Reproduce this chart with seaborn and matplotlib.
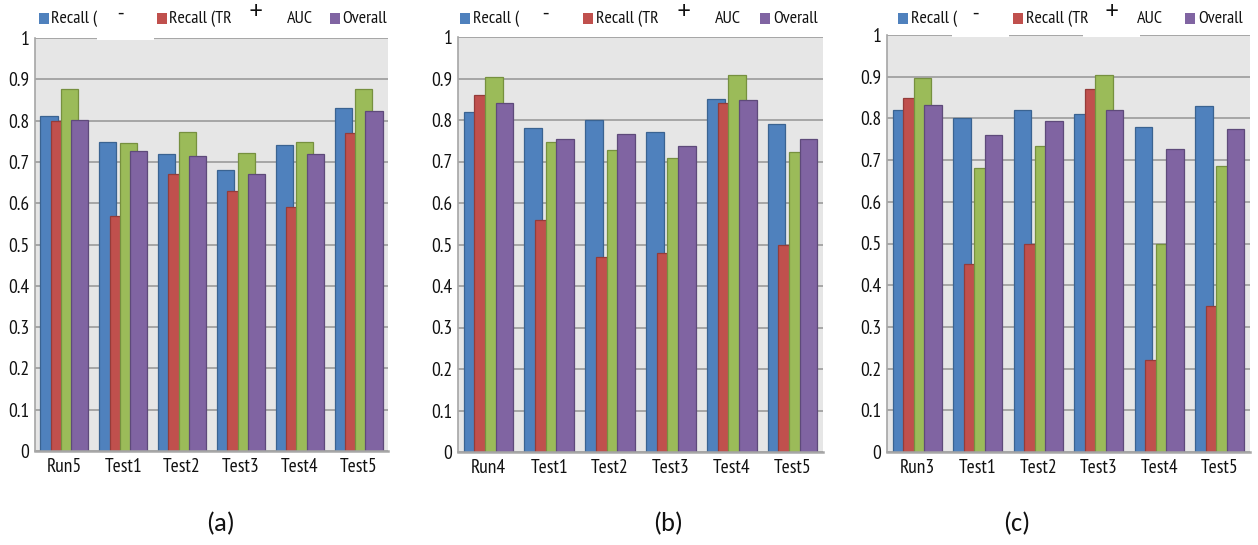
import numpy as np
import pandas as pd
import matplotlib
matplotlib.use("Agg")
import matplotlib.pyplot as plt
import seaborn as sns
from matplotlib.patches import Rectangle

# ---------------- data ----------------
series = ["Recall (-)", "Recall (TR+)", "AUC", "Overall"]

cats_a = ["Run5", "Test1", "Test2", "Test3", "Test4", "Test5"]
recall_neg_a = [0.81, 0.748, 0.72, 0.68, 0.74, 0.83]
recall_pos_a = [0.80, 0.57, 0.67, 0.63, 0.59, 0.77]
auc_a = [0.877, 0.745, 0.773, 0.722, 0.748, 0.877]
overall_a = [0.802, 0.727, 0.715, 0.67, 0.72, 0.823]

cats_b = ["Run4", "Test1", "Test2", "Test3", "Test4", "Test5"]
recall_neg_b = [0.82, 0.78, 0.80, 0.77, 0.85, 0.79]
recall_pos_b = [0.86, 0.56, 0.47, 0.48, 0.84, 0.50]
auc_b = [0.903, 0.748, 0.727, 0.709, 0.909, 0.724]
overall_b = [0.841, 0.755, 0.767, 0.737, 0.847, 0.755]

cats_c = ["Run3", "Test1", "Test2", "Test3", "Test4", "Test5"]
recall_neg_c = [0.82, 0.80, 0.82, 0.81, 0.78, 0.83]
recall_pos_c = [0.85, 0.45, 0.50, 0.87, 0.22, 0.35]
auc_c = [0.898, 0.681, 0.733, 0.904, 0.50, 0.685]
overall_c = [0.832, 0.76, 0.793, 0.82, 0.727, 0.775]

yticks = [0, 0.1, 0.2, 0.3, 0.4, 0.5, 0.6, 0.7, 0.8, 0.9, 1]
ytick_labels = ["0", "0.1", "0.2", "0.3", "0.4", "0.5", "0.6", "0.7", "0.8", "0.9", "1"]
captions = ["(a)", "(b)", "(c)"]

colors = ["#4F81BD", "#C0504D", "#9BBB59", "#8064A2"]
edges = ["#3A6391", "#943C3A", "#76903F", "#5E4A7A"]

def make_df(cats, s1, s2, s3, s4):
    rows = []
    for name, vals in zip(series, [s1, s2, s3, s4]):
        for c, v in zip(cats, vals):
            rows.append({"cat": c, "series": name, "value": v})
    return pd.DataFrame(rows)

panels = [
    (make_df(cats_a, recall_neg_a, recall_pos_a, auc_a, overall_a), cats_a),
    (make_df(cats_b, recall_neg_b, recall_pos_b, auc_b, overall_b), cats_b),
    (make_df(cats_c, recall_neg_c, recall_pos_c, auc_c, overall_c), cats_c),
]

W, H = 1258, 545
fig = plt.figure(figsize=(W / 100, H / 100), dpi=100)
fig.patch.set_facecolor("white")

narrow = ["PT Sans Narrow", "DejaVu Sans"]
calib = ["Carlito", "DejaVu Sans"]
TXT = "#111111"

def fx(px):
    return px / W

def fy(py):
    return 1 - py / H

# axes boxes in pixels: left, top, right, bottom
boxes = [(35, 38, 388, 451), (458, 37, 823, 452), (887, 35, 1250, 452)]
caption_x = [221, 668, 1017]

for i, ((df, cats), (l, t, r, b)) in enumerate(zip(panels, boxes)):
    ax = fig.add_axes([fx(l), fy(b), fx(r - l), (b - t) / H])
    sns.barplot(data=df, x="cat", y="value", hue="series", order=cats,
                hue_order=series, palette=colors, width=0.7, dodge=True,
                legend=False, ax=ax, saturation=1)
    # widen bars so that they overlap like the original
    for j, p in enumerate(ax.patches):
        k = j // len(cats)
        w = p.get_width()
        cx = p.get_x() + w / 2
        nw = 0.29
        p.set_x(cx - nw / 2)
        p.set_width(nw)
        p.set_edgecolor(edges[k])
        p.set_linewidth(0.9)
    ax.set_facecolor("#E6E6E6")
    ax.set_ylim(0, 1)
    ax.set_xlim(-0.5, len(cats) - 0.5)
    ax.set_yticks(yticks)
    ax.set_yticklabels(ytick_labels)
    ax.set_xlabel("")
    ax.set_ylabel("")
    ax.grid(axis="y", color="#A6A6A6", linewidth=1.4)
    ax.grid(axis="x", visible=False)
    ax.set_axisbelow(True)
    for s in ["top", "right"]:
        ax.spines[s].set_visible(False)
    ax.spines["left"].set_color("#A6A6A6")
    ax.spines["left"].set_linewidth(1.2)
    ax.spines["bottom"].set_color("#A6A6A6")
    ax.spines["bottom"].set_linewidth(1.8)
    ax.tick_params(axis="both", length=0, labelsize=14, colors=TXT)
    ax.tick_params(axis="y", pad=4)
    ax.tick_params(axis="x", pad=5)
    for lab in ax.get_xticklabels() + ax.get_yticklabels():
        lab.set_family(narrow)
    fig.text(fx(caption_x[i]), fy(524), captions[i], ha="center", va="center",
             fontsize=19, family=calib, color=TXT)

# legend-like header (as in the original, partially covered)
legend_items = [
    [(39, 51, "Recall (", colors[0]), (None, 117, "-", None), (157, 169, "Recall (TR", colors[1]),
     (None, 250, "+", None), (None, 287, "AUC", None), (330, 342, "Overall", colors[3])],
    [(460, 473, "Recall (", colors[0]), (None, 542, "-", None), (583, 596, "Recall (TR", colors[1]),
     (None, 678, "+", None), (None, 715, "AUC", None), (760, 773, "Overall", colors[3])],
    [(898, 911, "Recall (", colors[0]), (None, 972, "-", None), (1013, 1026, "Recall (TR", colors[1]),
     (None, 1105, "+", None), (None, 1137, "AUC", None), (1185, 1198, "Overall", colors[3])],
]
for items in legend_items:
    for sq, tx, text, col in items:
        if sq is not None:
            fig.patches.append(Rectangle((fx(sq), fy(24)), fx(10), 11 / H,
                                         transform=fig.transFigure, facecolor=col,
                                         edgecolor="none", zorder=5))
        if text == "-":
            fig.text(fx(tx), fy(13), text, ha="left", va="center", fontsize=15,
                     family=calib, color=TXT)
        elif text == "+":
            fig.text(fx(tx), fy(11), text, ha="left", va="center", fontsize=18,
                     family=calib, color=TXT)
        else:
            fig.text(fx(tx), fy(19), text, ha="left", va="center", fontsize=13,
                     family=narrow, color=TXT)

# white masks that interrupt the top gridline (as in the original)
masks = [(97, 154, 40), (952, 1009, 37), (1083, 1140, 37)]
for x0, x1, ybot in masks:
    fig.patches.append(Rectangle((fx(x0), fy(ybot)), fx(x1 - x0), 6 / H,
                                 transform=fig.transFigure, facecolor="white",
                                 edgecolor="none", zorder=10))

fig.savefig("out.png", dpi=100, facecolor="white")
